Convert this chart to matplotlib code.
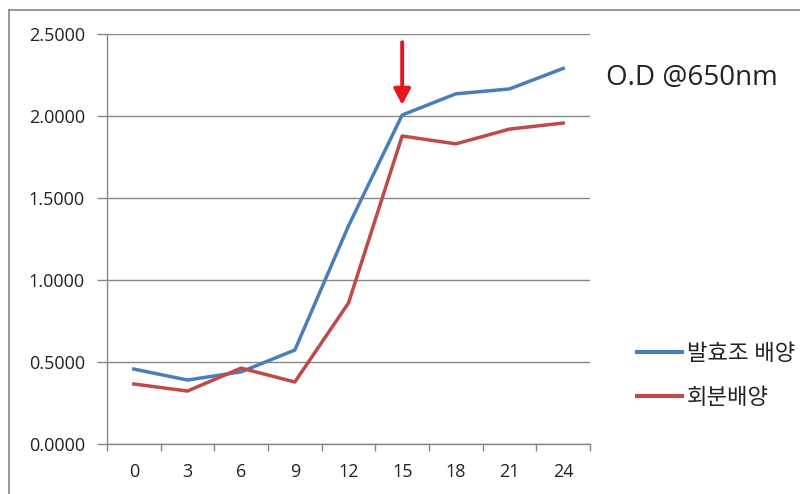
import matplotlib
matplotlib.use("Agg")
import matplotlib.pyplot as plt
from matplotlib.lines import Line2D
import numpy as np

hours = ["0", "3", "6", "9", "12", "15", "18", "21", "24"]
fermenter = [0.457, 0.390, 0.440, 0.573, 1.330, 2.006, 2.135, 2.165, 2.290]
batch = [0.366, 0.323, 0.463, 0.378, 0.860, 1.878, 1.830, 1.920, 1.957]
series_names = ["발효조 배양", "회분배양"]
y_ticks = [0.0, 0.5, 1.0, 1.5, 2.0, 2.5]
title_text = "O.D @650nm"
arrow_at = 5  # index of the 15 h point
arrow_from, arrow_to = 2.45, 2.067

plt.rcParams['font.family'] = ['Open Sans', 'Noto Sans CJK KR', 'DejaVu Sans']

fig = plt.figure(figsize=(8.0, 4.94), dpi=100)
ax = fig.add_axes([0.13375, 0.1012, 0.60375, 0.8300])

x = np.arange(len(hours))
blue = "#4A7EBB"
red = "#BE4B48"
axis_gray = "#868686"
text_col = "#222222"

ax.plot(x, fermenter, color=blue, lw=2.5, solid_joinstyle="round", zorder=3)
ax.plot(x, batch, color=red, lw=2.5, solid_joinstyle="round", zorder=3)

ax.set_xlim(-0.5, len(hours) - 0.5)
ax.set_ylim(0, 2.5)
ax.set_yticks(y_ticks)
ax.set_yticklabels([f"{v:.4f}" for v in y_ticks])
ax.set_xticks(x)
ax.set_xticklabels(hours)
ax.set_xticks(np.arange(-0.5, len(hours)), minor=True)
ax.tick_params(axis="x", which="major", length=0, pad=14, labelsize=13, colors=text_col)
ax.tick_params(axis="x", which="minor", length=5, width=1, color=axis_gray, direction="out")
ax.tick_params(axis="y", length=7, width=1, color=axis_gray, pad=9, labelsize=13, labelcolor=text_col)

ax.grid(axis="y", color=axis_gray, lw=1)
ax.set_axisbelow(True)
for side in ["top", "right"]:
    ax.spines[side].set_visible(False)
for side in ["left", "bottom"]:
    ax.spines[side].set_color(axis_gray)
    ax.spines[side].set_linewidth(1)

ax.annotate("", xy=(arrow_at, arrow_to), xytext=(arrow_at, arrow_from),
            arrowprops=dict(arrowstyle="-|>,head_length=0.95,head_width=0.5",
                            color="#E8141B", lw=2.8, shrinkA=0, shrinkB=0),
            zorder=4)

fig.text(0.758, 0.843, title_text, fontsize=20, color=text_col, va="center", ha="left")

handles = [Line2D([], [], color=blue, lw=3), Line2D([], [], color=red, lw=3)]
fig.legend(handles, series_names, loc="center left", bbox_to_anchor=(0.782, 0.238),
           frameon=False, fontsize=16, handlelength=2.05, handletextpad=0.2,
           labelspacing=1.05, borderpad=0, labelcolor=text_col)

# outer chart-area border
fig.add_artist(Line2D([0.011, 0.011], [0.0, 0.98], transform=fig.transFigure,
                      color=axis_gray, lw=1.2))
fig.add_artist(Line2D([0.011, 1.0], [0.98, 0.98], transform=fig.transFigure,
                      color=axis_gray, lw=1.2))

fig.savefig("out.png", dpi=100)
